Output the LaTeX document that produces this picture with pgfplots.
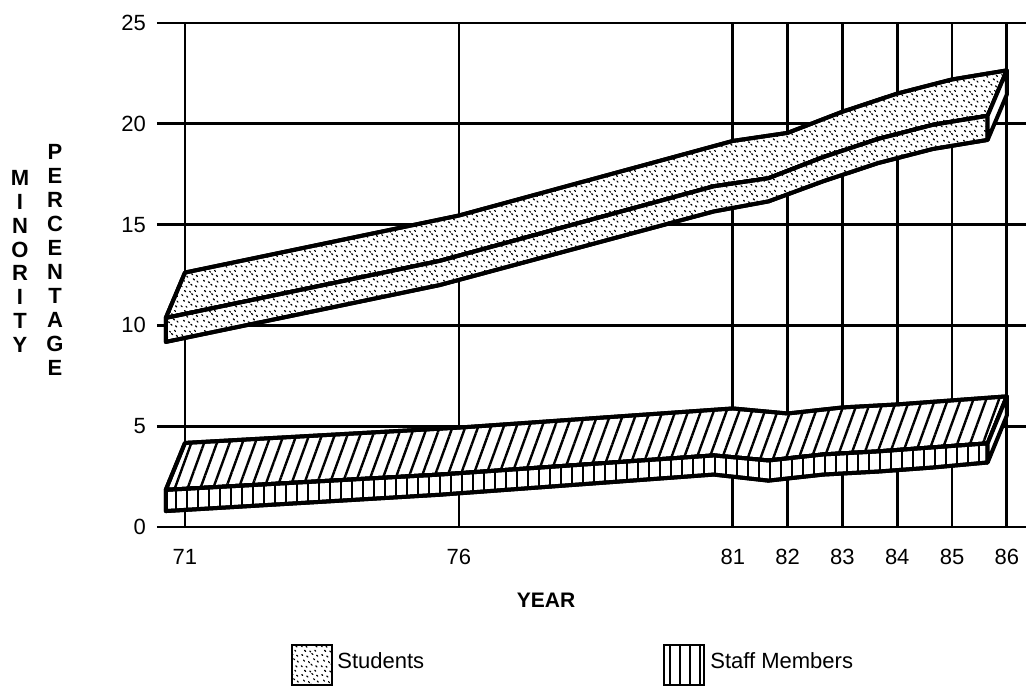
\documentclass[border=0pt]{standalone}
\usepackage{pgfplots}
\pgfplotsset{compat=1.18}
\usepackage{fontspec}
\setmainfont{Liberation Sans}
\usetikzlibrary{patterns,patterns.meta}

\pgfdeclarepattern{
  name=speckle, type=uncolored,
  bottom left={\pgfpoint{0pt}{0pt}}, top right={\pgfpoint{10pt}{10pt}},
  tile size={\pgfpoint{10pt}{10pt}},
  code={
    \pgfsetlinewidth{0.6pt}
    \pgfsetroundcap
    \foreach \a/\b in {0.6/1.2, 3.1/0.9, 5.7/2.0, 8.2/1.1, 1.8/4.1, 4.4/3.3, 7.0/4.8, 8.9/3.6, 0.9/7.0, 3.5/6.2, 6.1/7.5, 8.6/6.6, 2.4/9.1, 5.0/8.8, 7.6/9.2}{
      \pgfpathmoveto{\pgfpoint{\a pt}{\b pt}}
      \pgfpathlineto{\pgfpointadd{\pgfpoint{\a pt}{\b pt}}{\pgfpoint{0.55pt}{-0.55pt}}}
    }
    \pgfusepath{stroke}
  }
}

\begin{document}
\begin{tikzpicture}
\useasboundingbox (-78.5pt,-80.5pt) rectangle (434.5pt,263.5pt);
\begin{axis}[
  at={(0pt,0pt)}, anchor=south west,
  scale only axis, width=434.5pt, height=252pt,
  xmin=70.49, xmax=86.35, ymin=0, ymax=25,
  xtick={71,76,81,82,83,84,85,86},
  ytick={0,5,10,15,20,25},
  grid=major, major grid style={black, line width=1.4pt},
  axis line style={draw=none},
  major tick length=0pt,
  tick label style={font=\fontsize{11}{13}\selectfont},
  /pgf/number format/assume math mode=true,
  xticklabel style={yshift=-7.5pt},
  yticklabel style={xshift=-2pt},
  clip=false,
  no markers,
  every axis plot/.append style={draw=black, line width=2pt, line join=round},
]
% Students: top face
\addplot[fill=white, postaction={pattern=speckle}] coordinates {
 (70.65,10.37) (75.65,13.2) (80.65,16.9) (81.65,17.3) (82.65,18.35) (83.65,19.25) (84.65,19.95) (85.65,20.4)
 (86,22.65) (85,22.2) (84,21.5) (83,20.6) (82,19.55) (81,19.15) (76,15.45) (71,12.62)} -- cycle;
% Students: front face
\addplot[fill=white, postaction={pattern=speckle}] coordinates {
 (70.65,10.37) (75.65,13.2) (80.65,16.9) (81.65,17.3) (82.65,18.35) (83.65,19.25) (84.65,19.95) (85.65,20.4)
 (85.65,19.2) (84.65,18.75) (83.65,18.05) (82.65,17.15) (81.65,16.15) (80.65,15.65) (75.65,12.0) (70.65,9.18)} -- cycle;
% Students: right face
\addplot[fill=white] coordinates {(85.65,20.4) (86,22.65) (86,21.45) (85.65,19.2)} -- cycle;

% Staff: top face
\addplot[fill=white, postaction={pattern={Lines[angle=70, distance=6pt, line width=1.2pt]}}] coordinates {
 (70.65,1.84) (75.65,2.6) (80.65,3.55) (81.65,3.3) (82.65,3.6) (83.65,3.75) (84.65,3.95) (85.65,4.15)
 (86,6.48) (85,6.28) (84,6.08) (83,5.93) (82,5.63) (81,5.88) (76,4.93) (71,4.17)} -- cycle;
% Staff: front face
\addplot[fill=white, postaction={pattern={Lines[angle=90, distance=5.5pt, line width=1.1pt]}}] coordinates {
 (70.65,1.84) (75.65,2.6) (80.65,3.55) (81.65,3.3) (82.65,3.6) (83.65,3.75) (84.65,3.95) (85.65,4.15)
 (85.65,3.2) (84.65,2.95) (83.65,2.75) (82.65,2.6) (81.65,2.3) (80.65,2.6) (75.65,1.6) (70.65,0.79)} -- cycle;
% Staff: right face
\addplot[fill=white] coordinates {(85.65,4.15) (86,6.48) (86,5.53) (85.65,3.2)} -- cycle;
\end{axis}

% axis titles
\node[font=\bfseries\fontsize{10.5}{12}\selectfont] at (194.5pt,-36.5pt) {YEAR};
\node[font=\bfseries\fontsize{11}{11.9}\selectfont, align=center] at (-68.5pt,132.75pt) {M\\I\\N\\O\\R\\I\\T\\Y};
\node[font=\bfseries\fontsize{11}{12}\selectfont, align=center] at (-51pt,133.5pt) {P\\E\\R\\C\\E\\N\\T\\A\\G\\E};

% legend
\draw[line width=0.8pt, fill=white, postaction={pattern=speckle}] (67.5pt,-79pt) rectangle (87.5pt,-59pt);
\node[anchor=west, font=\fontsize{11}{13}\selectfont, inner sep=0pt] at (90pt,-67pt) {Students};
\draw[line width=0.8pt, fill=white, postaction={pattern={Lines[angle=90, distance=5pt, line width=0.8pt]}}] (253.5pt,-79pt) rectangle (273.5pt,-59pt);
\node[anchor=west, font=\fontsize{11}{13}\selectfont, inner sep=0pt] at (276.5pt,-67pt) {Staff Members};
\end{tikzpicture}
\end{document}
